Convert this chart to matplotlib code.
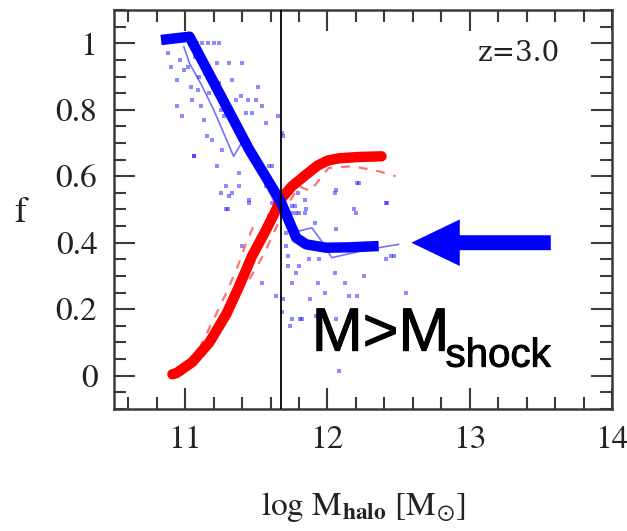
import matplotlib
matplotlib.use("Agg")
import matplotlib.pyplot as plt
from matplotlib.ticker import MultipleLocator
import matplotlib.patheffects as pe

plt.rcParams['mathtext.fontset'] = 'stix'

# ---------------- data ----------------
# thick blue curve (cold-flow fraction)
blue_x = [10.83, 11.03, 11.45, 11.67, 11.78, 11.85, 11.99, 12.15, 12.36]
blue_y = [1.010, 1.020, 0.680, 0.525, 0.415, 0.395, 0.385, 0.386, 0.390]

# thick red curve (hot fraction)
red_x = [10.91, 10.94, 11.05, 11.17, 11.29, 11.38, 11.47, 11.57, 11.64, 11.67, 11.75, 11.85, 11.93, 12.00, 12.08, 12.22, 12.38]
red_y = [0.004, 0.008, 0.041, 0.100, 0.186, 0.270, 0.360, 0.440, 0.500, 0.530, 0.570, 0.605, 0.632, 0.647, 0.654, 0.658, 0.660]

# thin blue median line
tblue_x = [10.99, 11.03, 11.12, 11.20, 11.25, 11.34, 11.41, 11.55, 11.64, 11.72, 11.80, 11.89, 11.95, 12.03, 12.29, 12.50]
tblue_y = [0.99, 0.94, 0.87, 0.80, 0.75, 0.66, 0.71, 0.59, 0.51, 0.47, 0.435, 0.445, 0.41, 0.355, 0.38, 0.395]

# thin dashed red lines
tred1_x = [11.05, 11.12, 11.20, 11.29, 11.37, 11.43, 11.50]
tred1_y = [0.03, 0.10, 0.17, 0.25, 0.33, 0.40, 0.47]
tred2_x = [11.45, 11.52, 11.57, 11.60, 11.70, 11.80, 11.88, 11.96, 12.01, 12.17, 12.24, 12.36, 12.48]
tred2_y = [0.29, 0.34, 0.38, 0.41, 0.50, 0.57, 0.555, 0.60, 0.625, 0.63, 0.625, 0.615, 0.60]

# individual haloes (blue points)
pts_x = [11.08, 11.12, 11.16, 11.20, 11.24, 10.88, 10.90, 10.94, 10.96, 10.99, 10.94, 10.98,
         11.04, 11.05, 11.10, 11.11, 11.13, 11.15, 11.06, 11.17, 11.22, 11.24, 11.25, 11.19,
         11.22, 11.26, 11.31, 11.33, 11.36, 11.40, 11.39, 11.44, 11.50, 11.51, 11.54, 11.57,
         11.43, 11.47, 11.43, 11.38, 11.47, 11.29, 11.33, 11.25, 11.30, 11.38, 11.45, 11.54,
         11.59, 11.65, 11.68, 11.69, 11.57, 11.61, 11.59, 11.71, 11.75, 11.80, 11.84, 11.06,
         11.31, 11.29, 11.45, 11.69, 11.78, 11.71, 11.72, 11.72, 11.80, 11.75, 11.87, 11.94,
         11.93, 11.98, 12.05, 12.12, 12.15, 12.21, 12.26, 12.41, 12.47, 12.55, 11.64, 11.69,
         11.68, 11.75, 11.82, 11.74, 11.88, 11.92, 12.06, 12.08, 11.78, 11.61, 11.79, 11.77,
         11.85, 12.05, 12.06, 12.21, 12.20, 12.41, 12.06, 11.91, 11.75, 11.40, 11.50, 11.54,
         11.81, 12.22, 12.42, 12.19, 11.84, 12.45, 11.02, 11.07, 11.14, 11.18, 11.09, 11.27]
pts_y = [1.00, 1.00, 1.00, 1.00, 1.00, 0.97, 0.93, 0.89, 0.95, 0.92, 0.81, 0.78,
         0.87, 0.83, 0.90, 0.81, 0.77, 0.72, 0.66, 0.85, 0.94, 0.88, 0.80, 0.71,
         0.63, 0.68, 0.94, 0.89, 0.83, 0.94, 0.84, 0.83, 0.83, 0.87, 0.81, 0.76,
         0.79, 0.79, 0.69, 0.61, 0.65, 0.57, 0.55, 0.55, 0.50, 0.57, 0.53, 0.61,
         0.63, 0.78, 0.73, 0.72, 0.57, 0.52, 0.48, 0.43, 0.51, 0.49, 0.53, 0.66,
         0.54, 0.50, 0.52, 0.53, 0.49, 0.39, 0.36, 0.33, 0.33, 0.28, 0.35, 0.35,
         0.28, 0.25, 0.31, 0.28, 0.24, 0.24, 0.30, 0.35, 0.36, 0.25, 0.24, 0.23,
         0.19, 0.17, 0.17, 0.15, 0.23, 0.18, 0.17, 0.015, 0.31, 0.63, 0.55, 0.51,
         0.50, 0.55, 0.56, 0.58, 0.49, 0.52, 0.44, 0.46, 0.49, 0.39, 0.40, 0.28,
         0.17, 0.58, 0.52, 0.50, 0.49, 0.36, 0.93, 0.96, 0.91, 0.89, 0.86, 0.78]

m_shock = 11.67           # vertical line position
arrow_tail = (13.57, 0.40)
arrow_tip_x = 12.59

xticks = [11, 12, 13, 14]
yticks = [0, 0.2, 0.4, 0.6, 0.8, 1]
ytick_labels = ['0', '0.2', '0.4', '0.6', '0.8', '1']

# ---------------- figure ----------------
fig = plt.figure(figsize=(6.27, 5.31), dpi=100)
ax = fig.add_axes([0.182, 0.230, 0.794, 0.751])

serif = 'STIXGeneral'
frame_c = '#3a3a3a'

ax.scatter(pts_x, pts_y, s=5, marker='s', color='blue', alpha=0.45, linewidths=0, zorder=2)
ax.plot(tblue_x, tblue_y, color='blue', lw=1.2, alpha=0.55, zorder=3)
ax.plot(tred1_x, tred1_y, color='red', lw=1.6, alpha=0.55, dashes=(4, 4), zorder=3)
ax.plot(tred2_x, tred2_y, color='red', lw=1.6, alpha=0.55, dashes=(4, 4), zorder=3)
ax.plot(red_x, red_y, color='red', lw=7.5, solid_capstyle='round', solid_joinstyle='round', zorder=4)
ax.plot(blue_x, blue_y, color='blue', lw=7.5, solid_capstyle='butt', solid_joinstyle='round', zorder=5)
ax.axvline(m_shock, color='black', lw=1.3, zorder=6)

ax.arrow(arrow_tail[0], arrow_tail[1], arrow_tip_x - arrow_tail[0], 0,
         width=0.045, head_width=0.14, head_length=0.34,
         length_includes_head=True, color='blue', lw=0, zorder=7)

ax.set_xlim(10.5, 14.0)
ax.set_ylim(-0.1, 1.1)
ax.set_xticks(xticks)
ax.set_xticklabels([str(t) for t in xticks])
ax.set_yticks(yticks)
ax.set_yticklabels(ytick_labels)
ax.xaxis.set_minor_locator(MultipleLocator(0.2))
ax.yaxis.set_minor_locator(MultipleLocator(0.05))
ax.tick_params(which='both', direction='in', top=True, right=True, color=frame_c, width=1.5)
ax.tick_params(which='major', length=15, labelsize=24, pad=12)
ax.tick_params(which='minor', length=8.5)
for lab in ax.get_xticklabels() + ax.get_yticklabels():
    lab.set_fontfamily(serif)
    lab.set_color('#222222')
for sp in ax.spines.values():
    sp.set_color(frame_c)
    sp.set_linewidth(1.8)

ax.set_xlabel(r'log M$_{\mathbf{halo}}$ [M$_{\odot}$]', fontsize=24, family=serif,
              color='#222222', va='center')
ax.xaxis.set_label_coords(0.5, -0.246)
ax.set_ylabel('f', fontsize=26, family=serif, rotation=0, va='center', ha='center', color='#222222')
ax.yaxis.set_label_coords(-0.189, 0.491)

ax.text(0.896, 0.892, 'z=3.0', transform=ax.transAxes, ha='right', va='center',
        fontsize=20, family='DejaVu Serif', color='#222222')

thick = [pe.withStroke(linewidth=0.7, foreground='black')]
ax.text(11.89, 0.075, 'M>M', fontsize=44, family='Liberation Sans', color='black',
        ha='left', va='baseline', zorder=8, path_effects=thick)
ax.text(12.83, 0.027, 'shock', fontsize=29, family='Liberation Sans', color='black',
        ha='left', va='baseline', zorder=8, path_effects=thick)

fig.savefig('out.png', dpi=100)
